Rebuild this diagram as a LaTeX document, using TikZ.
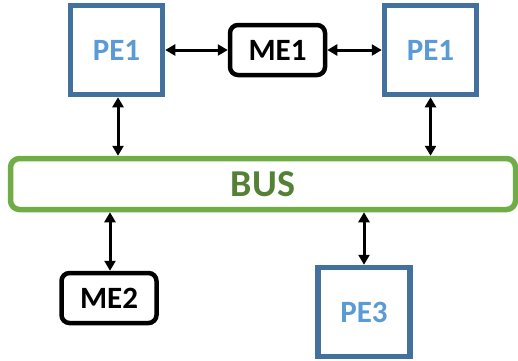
\documentclass[tikz,border=0pt]{standalone}
\usepackage{fontspec}
\setmainfont{Carlito}
\usetikzlibrary{arrows.meta}
\definecolor{peborder}{HTML}{41719C}
\definecolor{petext}{HTML}{5B9BD5}
\definecolor{busgreen}{HTML}{70AD47}
\definecolor{bustext}{HTML}{548235}
\tikzset{
  pebox/.style={draw=peborder, line width=5.5pt, fill=white, minimum width=92pt, minimum height=89pt, inner sep=0pt, text=petext, font=\fontsize{31}{33}\selectfont\bfseries},
  mebox/.style={draw=black, line width=4.5pt, rounded corners=8pt, fill=white, minimum width=95pt, minimum height=50pt, inner sep=0pt, font=\fontsize{31}{33}\selectfont\bfseries},
  busbox/.style={draw=busgreen, line width=5.5pt, rounded corners=9pt, fill=white, minimum width=505pt, minimum height=51pt, inner sep=0pt, text=bustext, font=\fontsize{38}{40}\selectfont\bfseries},
  link/.style={line width=3pt, {Triangle[length=10pt,width=11pt]}-{Triangle[length=10pt,width=11pt]}}
}
\begin{document}
\begin{tikzpicture}[x=1pt,y=-1pt]
\useasboundingbox (0,0) rectangle (518,360);
\node[pebox] (pe1l) at (116.5,50) {PE1};
\node[mebox] (me1) at (277.5,50) {ME1};
\node[pebox] (pe1r) at (430.5,50) {PE1};
\node[busbox] (bus) at (263,184) {BUS};
\node[mebox] (me2) at (109,298) {ME2};
\node[pebox] (pe3) at (364,312) {PE3};
\draw[link] (pe1l.east) -- (me1.west);
\draw[link] (me1.east) -- (pe1r.west);
\draw[link] ([xshift=1.5pt]pe1l.south) -- ([xshift=1.5pt]pe1l.south |- bus.north);
\draw[link] (pe1r.south) -- (pe1r.south |- bus.north);
\draw[link] ([xshift=1pt]bus.south -| me2.north) -- ([xshift=1pt]me2.north);
\draw[link] (bus.south -| pe3.north) -- (pe3.north);
\end{tikzpicture}
\end{document}
